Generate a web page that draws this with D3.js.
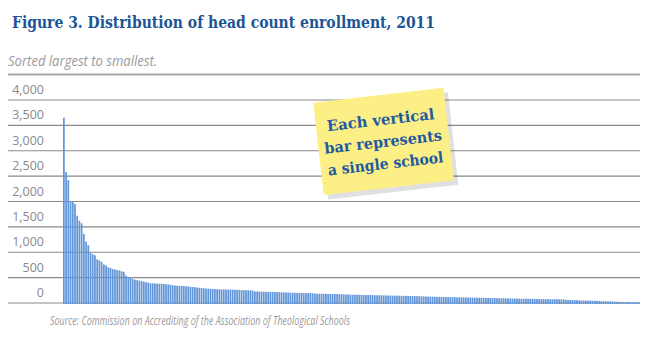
<!DOCTYPE html>
<html><head><meta charset="utf-8">
<script src="https://cdn.jsdelivr.net/npm/d3@7"></script>
<style>body{margin:0;background:#fff}</style>
</head><body>
<svg id="c" width="650" height="345"></svg>
<script>
const title = "Figure 3. Distribution of head count enrollment, 2011";
const subtitle = "Sorted largest to smallest.";
const source = "Source: Commission on Accrediting of the Association of Theological Schools";
const noteLines = ["Each vertical", "bar represents", "a single school"];
const yTicks = [0, 500, 1000, 1500, 2000, 2500, 3000, 3500, 4000];
// enrollment per school, sorted largest to smallest
const enrollment = [
3650,2580,2420,2000,1990,1950,1720,1620,1570,1360,
1210,1140,990,960,940,860,840,810,760,740,
700,690,670,660,650,640,625,615,540,515,
490,475,460,450,440,430,420,410,400,390,
388,385,382,380,378,375,370,365,360,350,
345,340,338,336,335,330,325,320,315,310,
305,300,295,290,285,282,280,278,275,272,
270,268,267,266,265,264,263,262,260,258,
256,254,252,250,248,246,228,226,225,224,
222,221,220,219,218,216,215,214,212,210,
208,206,203,202,201,200,199,198,197,196,
195,194,192,185,184,183,182,181,180,179,
178,177,176,175,174,172,170,168,166,165,
164,163,162,161,160,159,158,157,156,155,
154,153,152,151,150,149,148,147,146,145,
144,143,142,141,140,139,138,137,136,135,
134,132,130,128,126,125,124,123,122,121,
120,119,118,117,116,115,114,113,112,111,
110,109,108,107,106,105,104,103,102,101,
100,99,98,97,96,95,94,93,92,90,
90,89,88,88,87,86,85,84,84,83,
82,81,80,78,78,77,77,76,76,75,
75,74,74,73,73,72,62,61,60,59,
58,57,52,50,49,48,47,46,45,44,
43,38,36,34,33,32,31,30,26,24,
22,21,20,19,18,17,16,15,14,13
];

const svg = d3.select("#c");
const x = d3.scaleBand().domain(d3.range(enrollment.length)).range([63, 640]).paddingInner(0.22);
const y = d3.scaleLinear().domain([0, 4000]).range([303, 100]);

svg.append("text").attr("x", 12).attr("y", 28)
  .attr("font-family", "DejaVu Serif").attr("font-weight", "bold").attr("font-size", 16)
  .attr("fill", "#1d5594").attr("textLength", 423).attr("lengthAdjust", "spacingAndGlyphs")
  .text(title);
svg.append("text").attr("x", 8).attr("y", 66)
  .attr("font-family", "Open Sans").attr("font-style", "italic").attr("font-size", 14)
  .attr("fill", "#9a9a9a").attr("textLength", 149).attr("lengthAdjust", "spacingAndGlyphs")
  .text(subtitle);
svg.append("line").attr("x1", 8).attr("x2", 640).attr("y1", 74.5).attr("y2", 74.5)
  .attr("stroke", "#a8a8a8").attr("stroke-width", 2);

// gridlines
svg.append("g").selectAll("line").data(yTicks).join("line")
  .attr("x1", 8).attr("x2", 640).attr("y1", d => y(d)).attr("y2", d => y(d))
  .attr("stroke", "#8a8a8a").attr("stroke-width", 1.2);

// tick labels
svg.append("g").selectAll("text").data(yTicks).join("text")
  .attr("x", 44).attr("y", d => y(d) - 6).attr("text-anchor", "end")
  .attr("font-family", "Open Sans").attr("font-size", 12.5).attr("fill", "#8a8a8a")
  .text(d => d3.format(",")(d));

// bars
svg.append("g").selectAll("rect").data(enrollment).join("rect")
  .attr("x", (d, i) => x(i)).attr("width", x.bandwidth())
  .attr("y", d => y(d)).attr("height", d => y(0) - y(d) + 1)
  .attr("fill", "#6296d8");

// sticky note
const note = svg.append("g").attr("transform", "translate(383,141) rotate(-6.5)");
note.append("rect").attr("x", -63).attr("y", -44).attr("width", 131).attr("height", 93)
  .attr("fill", "#000").attr("opacity", 0.12).attr("transform", "translate(2,3)");
note.append("rect").attr("x", -65).attr("y", -46).attr("width", 131).attr("height", 93)
  .attr("fill", "#fcef86");
note.selectAll("text").data(noteLines).join("text")
  .attr("x", 0).attr("y", (d, i) => -16 + i * 22).attr("text-anchor", "middle")
  .attr("font-family", "DejaVu Serif").attr("font-weight", "bold").attr("font-size", 15)
  .attr("fill", "#1d5aa0")
  .attr("textLength", (d, i) => [108, 118, 116][i]).attr("lengthAdjust", "spacingAndGlyphs")
  .text(d => d);

svg.append("text").attr("x", 50).attr("y", 325)
  .attr("font-family", "Open Sans").attr("font-style", "italic").attr("font-size", 13)
  .attr("fill", "#9a9a9a").attr("textLength", 300).attr("lengthAdjust", "spacingAndGlyphs")
  .text(source);
</script>
</body></html>
